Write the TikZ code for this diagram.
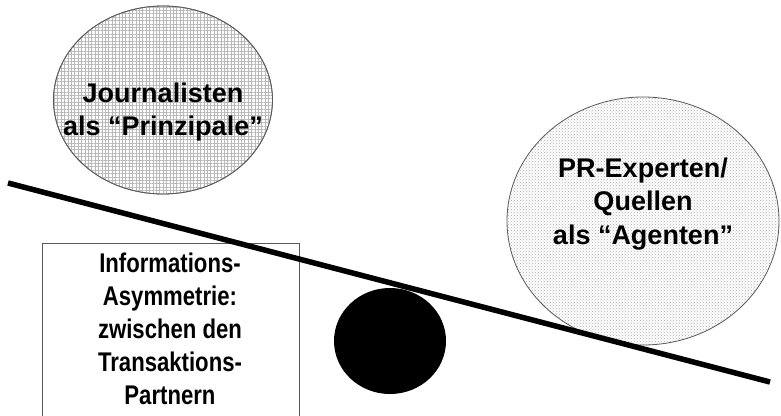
\documentclass[tikz,border=0pt]{standalone}
\usepackage{fontspec}
\setmainfont{Liberation Sans}
\newfontfamily\condfont{Liberation Sans}[FakeStretch=0.82]
\usetikzlibrary{patterns,patterns.meta,shapes.geometric}
\begin{document}
\begin{tikzpicture}[x=1pt,y=-1pt,
  bubble/.style={ellipse, draw=gray!70!black, line width=0.8pt, inner sep=0pt},
  lbl/.style={align=center, font=\bfseries\fontsize{27}{33.5}\selectfont, inner sep=0pt},
  boxlbl/.style={align=center, font=\condfont\bfseries\fontsize{27}{33}\selectfont, inner sep=0pt},
  beam/.style={line width=5.5pt}]
\useasboundingbox (0,0) rectangle (781,415);
\clip (0,0) rectangle (781,415);
% principals
\node[bubble, minimum width=219pt, minimum height=188pt, fill=white] (prin) at (163,100) {};
\fill[pattern={Lines[angle=0,distance=3.4pt,line width=0.7pt]}, pattern color=gray!55] (prin.center) ellipse [x radius=109.5pt, y radius=94pt];
\fill[pattern={Lines[angle=90,distance=3.4pt,line width=0.7pt]}, pattern color=gray!55] (prin.center) ellipse [x radius=109.5pt, y radius=94pt];
\draw[gray!70!black, line width=0.8pt] (prin.center) ellipse [x radius=109.5pt, y radius=94pt];
\node[lbl] (prinT) at (163,112) {Journalisten\\als “Prinzipale”};
% agents
\node[bubble, minimum width=272pt, minimum height=248pt, pattern=crosshatch dots, pattern color=gray!65] (agent) at (643,221) {};
\node[lbl] (agentT) at (643,204) {PR-Experten/\\Quellen\\als “Agenten”};
% box
\node[draw=gray!70!black, line width=0.8pt, minimum width=257pt, minimum height=200pt, inner sep=0pt] (box) at (170.5,343) {};
\node[boxlbl] (boxT) at (170,329) {Informations-\\Asymmetrie:\\zwischen den\\Transaktions-\\Partnern};
% fulcrum
\node[ellipse, fill=black, minimum width=112pt, minimum height=106pt, inner sep=0pt] (fulcrum) at (390,341) {};
% beam
\coordinate (bL) at (8,183);
\coordinate (bR) at (770,382);
\draw[beam] (bL) -- (bR);
\end{tikzpicture}
\end{document}
